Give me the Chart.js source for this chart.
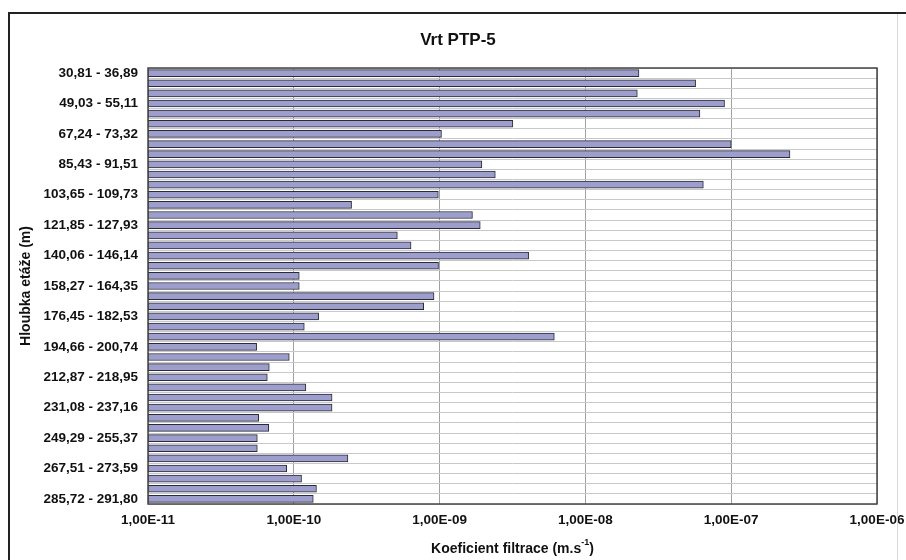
<!DOCTYPE html>
<html>
<head>
<meta charset="utf-8">
<script src="https://cdn.jsdelivr.net/npm/chart.js@4.4.1/dist/chart.umd.min.js"></script>
<style>
  html, body { margin: 0; padding: 0; background: #fff; }
  #wrap { position: relative; width: 906px; height: 560px; }
</style>
</head>
<body>
<div id="wrap"><canvas id="chart-ptp5" width="906" height="560"></canvas></div>
<script>
/* -------------------------------------------------- */
/* Vrt PTP-5 -- filtration coefficient by depth        */
/* -------------------------------------------------- */

const DEPTH_LABELS = [
  '30,81 - 36,89',   '36,89 - 42,96',   '42,96 - 49,03',
  '49,03 - 55,11',   '55,11 - 61,17',   '61,17 - 67,24',
  '67,24 - 73,32',   '73,32 - 79,37',   '79,37 - 85,43',
  '85,43 - 91,51',   '91,51 - 97,58',   '97,58 - 103,65',
  '103,65 - 109,73', '109,73 - 115,79', '115,79 - 121,85',
  '121,85 - 127,93', '127,93 - 134,00', '134,00 - 140,06',
  '140,06 - 146,14', '146,14 - 152,21', '152,21 - 158,27',
  '158,27 - 164,35', '164,35 - 170,40', '170,40 - 176,45',
  '176,45 - 182,53', '182,53 - 188,60', '188,60 - 194,66',
  '194,66 - 200,74', '200,74 - 206,81', '206,81 - 212,87',
  '212,87 - 218,95', '218,95 - 225,02', '225,02 - 231,08',
  '231,08 - 237,16', '237,16 - 243,23', '243,23 - 249,29',
  '249,29 - 255,37', '255,37 - 261,44', '261,44 - 267,51',
  '267,51 - 273,59', '273,59 - 279,66', '279,66 - 285,72',
  '285,72 - 291,80',
];

const K_VALUES = [
  2.33e-8, 5.7e-8,  2.27e-8,
  9.0e-8,  6.1e-8,  3.18e-9,
  1.03e-9, 1.0e-7,  2.53e-7,
  1.95e-9, 2.41e-9, 6.44e-8,
  9.8e-10, 2.49e-10, 1.68e-9,
  1.9e-9,  5.13e-10, 6.37e-10,
  4.08e-9, 9.83e-10, 1.09e-10,
  1.09e-10, 9.16e-10, 7.78e-10,
  1.48e-10, 1.18e-10, 6.12e-9,
  5.56e-11, 9.31e-11, 6.79e-11,
  6.58e-11, 1.21e-10, 1.83e-10,
  1.83e-10, 5.74e-11, 6.73e-11,
  5.62e-11, 5.62e-11, 2.35e-10,
  8.94e-11, 1.13e-10, 1.43e-10,
  1.36e-10,
];

const X_TICKS = [1e-11, 1e-10, 1e-9, 1e-8, 1e-7, 1e-6];

const FONT = "'Liberation Sans', Arial, sans-serif";

Chart.defaults.font.family = FONT;
Chart.defaults.color = '#111';

function fmtSci(v) {
  const exp = Math.round(Math.log10(v));
  const sign = exp < 0 ? '-' : '+';
  return '1,00E' + sign + String(Math.abs(exp)).padStart(2, '0');
}

// frame, plot border, title and x-axis title with superscript
const decorPlugin = {
  id: 'decor',
  afterDraw(chart) {
    const { ctx, chartArea: a } = chart;
    ctx.save();

    // outer frame
    ctx.strokeStyle = '#222';
    ctx.lineWidth = 2;
    ctx.beginPath();
    ctx.moveTo(9, 560);
    ctx.lineTo(9, 13);
    ctx.lineTo(906, 13);
    ctx.stroke();
    ctx.strokeStyle = '#d8d8d8';
    ctx.lineWidth = 1;
    ctx.beginPath();
    ctx.moveTo(897.5, 14);
    ctx.lineTo(897.5, 560);
    ctx.stroke();

    // plot border
    ctx.strokeStyle = '#444';
    ctx.lineWidth = 1.5;
    ctx.strokeRect(a.left, a.top, a.right - a.left, a.bottom - a.top);

    // title
    ctx.fillStyle = '#111';
    ctx.font = 'bold 17px ' + FONT;
    ctx.textAlign = 'center';
    ctx.textBaseline = 'middle';
    ctx.fillText('Vrt PTP-5', 458, 40);

    // x axis title: Koeficient filtrace (m.s^-1)
    const main = 'Koeficient filtrace (m.s';
    const sup = '-1';
    const end = ')';
    ctx.font = 'bold 14px ' + FONT;
    const wMain = ctx.measureText(main).width;
    const wEnd = ctx.measureText(end).width;
    ctx.font = 'bold 9px ' + FONT;
    const wSup = ctx.measureText(sup).width;
    const cx = (a.left + a.right) / 2;
    let x = cx - (wMain + wSup + wEnd) / 2;
    const y = 549;
    ctx.textAlign = 'left';
    ctx.font = 'bold 14px ' + FONT;
    ctx.fillText(main, x, y);
    x += wMain;
    ctx.font = 'bold 9px ' + FONT;
    ctx.fillText(sup, x, y - 6);
    x += wSup;
    ctx.font = 'bold 14px ' + FONT;
    ctx.fillText(end, x, y);

    ctx.restore();
  },
};

const ctx = document.getElementById('chart-ptp5').getContext('2d');
new Chart(ctx, {
  type: 'bar',
  data: {
    labels: DEPTH_LABELS,
    datasets: [{
      data: K_VALUES,
      backgroundColor: '#9e9ecc',
      borderColor: '#2a2a38',
      borderWidth: 1,
      borderSkipped: false,
      barThickness: 7,
    }],
  },
  options: {
    indexAxis: 'y',
    responsive: false,
    animation: false,
    layout: { padding: { top: 68, left: 14, right: 29, bottom: 0 } },
    plugins: {
      legend: { display: false },
      tooltip: { enabled: false },
    },
    scales: {
      x: {
        type: 'logarithmic',
        min: 1e-11,
        max: 1e-6,
        afterBuildTicks: s => { s.ticks = X_TICKS.map(v => ({ value: v })); },
        afterFit: s => {
          s.height = 56;
          s.paddingLeft = 0;
          s.paddingRight = 0;
        },
        ticks: {
          callback: v => fmtSci(v),
          font: { size: 13.5, weight: 'bold' },
          color: '#111',
          padding: 8,
          maxRotation: 0,
        },
        grid: { color: '#a0a0a0', drawTicks: false },
        border: { display: false },
      },
      y: {
        afterFit: s => { s.width = 134; },
        ticks: {
          autoSkip: false,
          callback: function (v, i) { return i % 3 === 0 ? this.getLabelForValue(v) : ''; },
          font: { size: 13.5, weight: 'bold' },
          color: '#111',
          padding: 10,
        },
        grid: { color: '#c8c8c8', drawTicks: false, offset: true },
        border: { display: false },
        title: {
          display: true,
          text: 'Hloubka etáže (m)',
          font: { size: 14, weight: 'bold' },
          color: '#111',
          padding: { top: 4, bottom: 0 },
        },
      },
    },
  },
  plugins: [decorPlugin],
});
</script>
</body>
</html>
